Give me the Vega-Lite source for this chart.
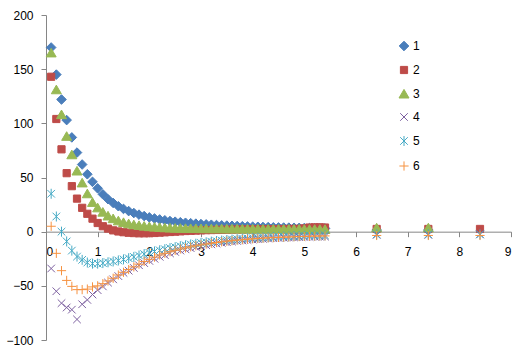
{
  "$schema": "https://vega.github.io/schema/vega-lite/v6.json",
  "autosize": {"type": "none"},
  "padding": {"left": 46, "top": 15, "right": 12, "bottom": 21},
  "width": 465,
  "height": 325,
  "background": "white",
  "config": {"view": {"stroke": null}, "font": "Liberation Sans"},
  "data": {"values": [
    {"s":"1","x":0.1,"y":170},{"s":"1","x":0.2,"y":145},{"s":"1","x":0.3,"y":122},{"s":"1","x":0.4,"y":103},{"s":"1","x":0.5,"y":87},{"s":"1","x":0.6,"y":73},{"s":"1","x":0.7,"y":62},{"s":"1","x":0.8,"y":53},{"s":"1","x":0.9,"y":46},{"s":"1","x":1.0,"y":40},
    {"s":"1","x":1.1,"y":34.5},{"s":"1","x":1.2,"y":30},{"s":"1","x":1.3,"y":26.5},{"s":"1","x":1.4,"y":23.5},{"s":"1","x":1.5,"y":21},{"s":"1","x":1.6,"y":19},{"s":"1","x":1.7,"y":17.2},{"s":"1","x":1.8,"y":15.7},{"s":"1","x":1.9,"y":14.4},{"s":"1","x":2.0,"y":13.2},
    {"s":"1","x":2.1,"y":12.2},{"s":"1","x":2.2,"y":11.3},{"s":"1","x":2.3,"y":10.5},{"s":"1","x":2.4,"y":9.8},{"s":"1","x":2.5,"y":9.2},{"s":"1","x":2.6,"y":8.7},{"s":"1","x":2.7,"y":8.2},{"s":"1","x":2.8,"y":7.8},{"s":"1","x":2.9,"y":7.4},{"s":"1","x":3.0,"y":7.0},
    {"s":"1","x":3.1,"y":6.7},{"s":"1","x":3.2,"y":6.4},{"s":"1","x":3.3,"y":6.1},{"s":"1","x":3.4,"y":5.8},{"s":"1","x":3.5,"y":5.6},{"s":"1","x":3.6,"y":5.4},{"s":"1","x":3.7,"y":5.2},{"s":"1","x":3.8,"y":5.0},{"s":"1","x":3.9,"y":4.8},{"s":"1","x":4.0,"y":4.6},
    {"s":"1","x":4.1,"y":4.5},{"s":"1","x":4.2,"y":4.3},{"s":"1","x":4.3,"y":4.2},{"s":"1","x":4.4,"y":4.0},{"s":"1","x":4.5,"y":3.9},{"s":"1","x":4.6,"y":3.8},{"s":"1","x":4.7,"y":3.7},{"s":"1","x":4.8,"y":3.6},{"s":"1","x":4.9,"y":3.5},{"s":"1","x":5.0,"y":3.4},
    {"s":"1","x":5.1,"y":3.3},{"s":"1","x":5.2,"y":3.2},{"s":"1","x":5.3,"y":3.1},{"s":"1","x":5.4,"y":3.0},{"s":"1","x":6.4,"y":1.5},{"s":"1","x":7.4,"y":1.5},

    {"s":"2","x":0.1,"y":143},{"s":"2","x":0.2,"y":104},{"s":"2","x":0.3,"y":76},{"s":"2","x":0.4,"y":54},{"s":"2","x":0.5,"y":42},{"s":"2","x":0.6,"y":30.5},{"s":"2","x":0.7,"y":22},{"s":"2","x":0.8,"y":16.5},{"s":"2","x":0.9,"y":12},{"s":"2","x":1.0,"y":8},
    {"s":"2","x":1.1,"y":5},{"s":"2","x":1.2,"y":2.8},{"s":"2","x":1.3,"y":1.2},{"s":"2","x":1.4,"y":0.2},{"s":"2","x":1.5,"y":-0.5},{"s":"2","x":1.6,"y":-1},{"s":"2","x":1.7,"y":-1.3},{"s":"2","x":1.8,"y":-1.5},{"s":"2","x":1.9,"y":-1.5},{"s":"2","x":2.0,"y":-1.4},
    {"s":"2","x":2.1,"y":-1.2},{"s":"2","x":2.2,"y":-0.9},{"s":"2","x":2.3,"y":-0.6},{"s":"2","x":2.4,"y":-0.3},{"s":"2","x":2.5,"y":0},{"s":"2","x":2.6,"y":0.3},{"s":"2","x":2.7,"y":0.6},{"s":"2","x":2.8,"y":0.8},{"s":"2","x":2.9,"y":1.0},{"s":"2","x":3.0,"y":1.2},
    {"s":"2","x":3.1,"y":1.4},{"s":"2","x":3.2,"y":1.5},{"s":"2","x":3.3,"y":1.6},{"s":"2","x":3.4,"y":1.7},{"s":"2","x":3.5,"y":1.8},{"s":"2","x":3.6,"y":1.9},{"s":"2","x":3.7,"y":2.0},{"s":"2","x":3.8,"y":2.0},{"s":"2","x":3.9,"y":2.1},{"s":"2","x":4.0,"y":2.1},
    {"s":"2","x":4.1,"y":2.2},{"s":"2","x":4.2,"y":2.2},{"s":"2","x":4.3,"y":2.3},{"s":"2","x":4.4,"y":2.3},{"s":"2","x":4.5,"y":2.4},{"s":"2","x":4.6,"y":2.4},{"s":"2","x":4.7,"y":2.5},{"s":"2","x":4.8,"y":2.5},{"s":"2","x":4.9,"y":2.6},{"s":"2","x":5.0,"y":3.0},
    {"s":"2","x":5.1,"y":3.8},{"s":"2","x":5.2,"y":4.0},{"s":"2","x":5.3,"y":4.0},{"s":"2","x":5.4,"y":3.8},{"s":"2","x":6.4,"y":2.5},{"s":"2","x":7.4,"y":2.5},{"s":"2","x":8.4,"y":2.5},

    {"s":"3","x":0.1,"y":165},{"s":"3","x":0.2,"y":131},{"s":"3","x":0.3,"y":108},{"s":"3","x":0.4,"y":88},{"s":"3","x":0.5,"y":71},{"s":"3","x":0.6,"y":56},{"s":"3","x":0.7,"y":45},{"s":"3","x":0.8,"y":35},{"s":"3","x":0.9,"y":27},{"s":"3","x":1.0,"y":22},
    {"s":"3","x":1.1,"y":18},{"s":"3","x":1.2,"y":14.5},{"s":"3","x":1.3,"y":12},{"s":"3","x":1.4,"y":10},{"s":"3","x":1.5,"y":8.5},{"s":"3","x":1.6,"y":7.3},{"s":"3","x":1.7,"y":6.4},{"s":"3","x":1.8,"y":5.7},{"s":"3","x":1.9,"y":5.1},{"s":"3","x":2.0,"y":4.6},
    {"s":"3","x":2.1,"y":4.2},{"s":"3","x":2.2,"y":3.9},{"s":"3","x":2.3,"y":3.6},{"s":"3","x":2.4,"y":3.4},{"s":"3","x":2.5,"y":3.2},{"s":"3","x":2.6,"y":3.1},{"s":"3","x":2.7,"y":3.0},{"s":"3","x":2.8,"y":2.9},{"s":"3","x":2.9,"y":2.9},{"s":"3","x":3.0,"y":2.8},
    {"s":"3","x":3.1,"y":2.8},{"s":"3","x":3.2,"y":2.7},{"s":"3","x":3.3,"y":2.7},{"s":"3","x":3.4,"y":2.7},{"s":"3","x":3.5,"y":2.6},{"s":"3","x":3.6,"y":2.6},{"s":"3","x":3.7,"y":2.6},{"s":"3","x":3.8,"y":2.5},{"s":"3","x":3.9,"y":2.5},{"s":"3","x":4.0,"y":2.5},
    {"s":"3","x":4.1,"y":2.5},{"s":"3","x":4.2,"y":2.4},{"s":"3","x":4.3,"y":2.4},{"s":"3","x":4.4,"y":2.4},{"s":"3","x":4.5,"y":2.4},{"s":"3","x":4.6,"y":2.3},{"s":"3","x":4.7,"y":2.3},{"s":"3","x":4.8,"y":2.3},{"s":"3","x":4.9,"y":2.3},{"s":"3","x":5.0,"y":2.2},
    {"s":"3","x":5.1,"y":2.2},{"s":"3","x":5.2,"y":2.2},{"s":"3","x":5.3,"y":2.2},{"s":"3","x":5.4,"y":2.1},{"s":"3","x":6.4,"y":3.5},{"s":"3","x":7.4,"y":3.5},

    {"s":"4","x":0.1,"y":-34},{"s":"4","x":0.2,"y":-55},{"s":"4","x":0.3,"y":-66},{"s":"4","x":0.4,"y":-70},{"s":"4","x":0.5,"y":-72},{"s":"4","x":0.6,"y":-81},{"s":"4","x":0.7,"y":-67},{"s":"4","x":0.8,"y":-63},{"s":"4","x":0.9,"y":-58},{"s":"4","x":1.0,"y":-54},
    {"s":"4","x":1.1,"y":-50.5},{"s":"4","x":1.2,"y":-47},{"s":"4","x":1.3,"y":-44},{"s":"4","x":1.4,"y":-41},{"s":"4","x":1.5,"y":-38},{"s":"4","x":1.6,"y":-36},{"s":"4","x":1.7,"y":-33.5},{"s":"4","x":1.8,"y":-31},{"s":"4","x":1.9,"y":-29},{"s":"4","x":2.0,"y":-27},
    {"s":"4","x":2.1,"y":-25},{"s":"4","x":2.2,"y":-23.2},{"s":"4","x":2.3,"y":-21.6},{"s":"4","x":2.4,"y":-20},{"s":"4","x":2.5,"y":-18.7},{"s":"4","x":2.6,"y":-17.4},{"s":"4","x":2.7,"y":-16.3},{"s":"4","x":2.8,"y":-15.2},{"s":"4","x":2.9,"y":-14.2},{"s":"4","x":3.0,"y":-13.3},
    {"s":"4","x":3.1,"y":-12.5},{"s":"4","x":3.2,"y":-11.7},{"s":"4","x":3.3,"y":-11},{"s":"4","x":3.4,"y":-10.3},{"s":"4","x":3.5,"y":-9.7},{"s":"4","x":3.6,"y":-9.1},{"s":"4","x":3.7,"y":-8.6},{"s":"4","x":3.8,"y":-8.1},{"s":"4","x":3.9,"y":-7.7},{"s":"4","x":4.0,"y":-7.3},
    {"s":"4","x":4.1,"y":-6.9},{"s":"4","x":4.2,"y":-6.6},{"s":"4","x":4.3,"y":-6.3},{"s":"4","x":4.4,"y":-6},{"s":"4","x":4.5,"y":-5.8},{"s":"4","x":4.6,"y":-5.6},{"s":"4","x":4.7,"y":-5.4},{"s":"4","x":4.8,"y":-5.2},{"s":"4","x":4.9,"y":-5},{"s":"4","x":5.0,"y":-4.9},
    {"s":"4","x":5.1,"y":-4.8},{"s":"4","x":5.2,"y":-4.7},{"s":"4","x":5.3,"y":-4.6},{"s":"4","x":5.4,"y":-4.5},{"s":"4","x":6.4,"y":-3},{"s":"4","x":7.4,"y":-3},{"s":"4","x":8.4,"y":-2.5},

    {"s":"5","x":0.1,"y":35},{"s":"5","x":0.2,"y":14},{"s":"5","x":0.3,"y":0},{"s":"5","x":0.4,"y":-9},{"s":"5","x":0.5,"y":-17.5},{"s":"5","x":0.6,"y":-23},{"s":"5","x":0.7,"y":-26},{"s":"5","x":0.8,"y":-28.5},{"s":"5","x":0.9,"y":-29.5},{"s":"5","x":1.0,"y":-29.5},
    {"s":"5","x":1.1,"y":-29},{"s":"5","x":1.2,"y":-28.3},{"s":"5","x":1.3,"y":-27.5},{"s":"5","x":1.4,"y":-26.6},{"s":"5","x":1.5,"y":-25.6},{"s":"5","x":1.6,"y":-24.5},{"s":"5","x":1.7,"y":-23.3},{"s":"5","x":1.8,"y":-22},{"s":"5","x":1.9,"y":-20.7},{"s":"5","x":2.0,"y":-19.5},
    {"s":"5","x":2.1,"y":-18.3},{"s":"5","x":2.2,"y":-17.2},{"s":"5","x":2.3,"y":-16.2},{"s":"5","x":2.4,"y":-15.2},{"s":"5","x":2.5,"y":-14.3},{"s":"5","x":2.6,"y":-13.4},{"s":"5","x":2.7,"y":-12.6},{"s":"5","x":2.8,"y":-11.8},{"s":"5","x":2.9,"y":-11.1},{"s":"5","x":3.0,"y":-10.4},
    {"s":"5","x":3.1,"y":-9.8},{"s":"5","x":3.2,"y":-9.2},{"s":"5","x":3.3,"y":-8.7},{"s":"5","x":3.4,"y":-8.2},{"s":"5","x":3.5,"y":-7.7},{"s":"5","x":3.6,"y":-7.3},{"s":"5","x":3.7,"y":-6.9},{"s":"5","x":3.8,"y":-6.5},{"s":"5","x":3.9,"y":-6.2},{"s":"5","x":4.0,"y":-5.9},
    {"s":"5","x":4.1,"y":-5.6},{"s":"5","x":4.2,"y":-5.3},{"s":"5","x":4.3,"y":-5.1},{"s":"5","x":4.4,"y":-4.9},{"s":"5","x":4.5,"y":-4.7},{"s":"5","x":4.6,"y":-4.5},{"s":"5","x":4.7,"y":-4.3},{"s":"5","x":4.8,"y":-4.1},{"s":"5","x":4.9,"y":-4.0},{"s":"5","x":5.0,"y":-3.9},
    {"s":"5","x":5.1,"y":-3.7},{"s":"5","x":5.2,"y":-3.6},{"s":"5","x":5.3,"y":-3.5},{"s":"5","x":5.4,"y":-3.4},{"s":"5","x":6.4,"y":-2.5},{"s":"5","x":7.4,"y":-2.5},{"s":"5","x":8.4,"y":-2.5},

    {"s":"6","x":0.1,"y":5},{"s":"6","x":0.2,"y":-20},{"s":"6","x":0.3,"y":-36},{"s":"6","x":0.4,"y":-45},{"s":"6","x":0.5,"y":-50.5},{"s":"6","x":0.6,"y":-53.5},{"s":"6","x":0.7,"y":-53.5},{"s":"6","x":0.8,"y":-53},{"s":"6","x":0.9,"y":-51},{"s":"6","x":1.0,"y":-50},
    {"s":"6","x":1.1,"y":-48},{"s":"6","x":1.2,"y":-45.5},{"s":"6","x":1.3,"y":-43},{"s":"6","x":1.4,"y":-40},{"s":"6","x":1.5,"y":-37.5},{"s":"6","x":1.6,"y":-35},{"s":"6","x":1.7,"y":-32.5},{"s":"6","x":1.8,"y":-30},{"s":"6","x":1.9,"y":-27.5},{"s":"6","x":2.0,"y":-25.5},
    {"s":"6","x":2.1,"y":-23.5},{"s":"6","x":2.2,"y":-21.5},{"s":"6","x":2.3,"y":-20},{"s":"6","x":2.4,"y":-18.5},{"s":"6","x":2.5,"y":-17.2},{"s":"6","x":2.6,"y":-16},{"s":"6","x":2.7,"y":-15},{"s":"6","x":2.8,"y":-14},{"s":"6","x":2.9,"y":-13},{"s":"6","x":3.0,"y":-12.2},
    {"s":"6","x":3.1,"y":-11.4},{"s":"6","x":3.2,"y":-10.7},{"s":"6","x":3.3,"y":-10},{"s":"6","x":3.4,"y":-9.4},{"s":"6","x":3.5,"y":-8.8},{"s":"6","x":3.6,"y":-8.3},{"s":"6","x":3.7,"y":-7.8},{"s":"6","x":3.8,"y":-7.4},{"s":"6","x":3.9,"y":-7},{"s":"6","x":4.0,"y":-6.6},
    {"s":"6","x":4.1,"y":-6.3},{"s":"6","x":4.2,"y":-6},{"s":"6","x":4.3,"y":-5.7},{"s":"6","x":4.4,"y":-5.5},{"s":"6","x":4.5,"y":-5.3},{"s":"6","x":4.6,"y":-5.1},{"s":"6","x":4.7,"y":-4.9},{"s":"6","x":4.8,"y":-4.7},{"s":"6","x":4.9,"y":-4.5},{"s":"6","x":5.0,"y":-4.4},
    {"s":"6","x":5.1,"y":-4.2},{"s":"6","x":5.2,"y":-4.1},{"s":"6","x":5.3,"y":-4.0},{"s":"6","x":5.4,"y":-3.9},{"s":"6","x":6.4,"y":-3.5},{"s":"6","x":7.4,"y":-3.5},{"s":"6","x":8.4,"y":-3.5}
  ]},
  "mark": {"type": "point", "filled": true, "size": 64, "strokeWidth": 1, "opacity": 1},
  "encoding": {
    "x": {"field": "x", "type": "quantitative",
      "scale": {"domain": [0, 9], "nice": false, "zero": false},
      "axis": {"title": null, "values": [0,1,2,3,4,5,6,7,8,9], "offset": -108.33, "grid": false,
        "domainColor": "#868686", "tickColor": "#868686", "tickSize": 5, "labelPadding": 10,
        "labelFontSize": 12, "labelColor": "#000000", "labelFont": "Liberation Sans"}},
    "y": {"field": "y", "type": "quantitative",
      "scale": {"domain": [-100, 200], "nice": false, "zero": false},
      "axis": {"title": null, "values": [-100,-50,0,50,100,150,200], "grid": false,
        "domainColor": "#868686", "tickColor": "#868686", "tickSize": 5, "labelPadding": 8,
        "labelFontSize": 12, "labelColor": "#000000", "labelFont": "Liberation Sans"}},
    "shape": {"field": "s", "type": "nominal",
      "scale": {"domain": ["1","2","3","4","5","6"],
        "range": ["M-1.2,0L0,-1.2L1.2,0L0,1.2Z", "M-0.9,-0.9L0.9,-0.9L0.9,0.9L-0.9,0.9Z", "M0,-1.15L1.25,1L-1.25,1Z", "M-0.95,-0.95L0.95,0.95M-0.95,0.95L0.95,-0.95", "M-0.95,-0.95L0.95,0.95M-0.95,0.95L0.95,-0.95M0,-1.25L0,1.25", "M-1.15,0L1.15,0M0,-1.15L0,1.15"]},
      "legend": {"title": null, "orient": "none", "legendX": 352, "legendY": 25, "padding": 0,
        "rowPadding": 11, "symbolSize": 64, "symbolStrokeWidth": 1, "labelFontSize": 12, "labelOffset": 3,
        "labelFont": "Liberation Sans", "labelColor": "#000000"}},
    "fill": {"field": "s", "type": "nominal",
      "scale": {"domain": ["1","2","3","4","5","6"], "range": ["#4A7EBB","#BE4B48","#98B954","#7D60A0","#46AAC5","#F69240"]},
      "legend": {"title": null, "orient": "none", "legendX": 352, "legendY": 25, "padding": 0,
        "rowPadding": 11, "symbolSize": 64, "symbolStrokeWidth": 1, "labelFontSize": 12, "labelOffset": 3,
        "labelFont": "Liberation Sans", "labelColor": "#000000"}},
    "stroke": {"field": "s", "type": "nominal",
      "scale": {"domain": ["1","2","3","4","5","6"], "range": ["#4A7EBB","#BE4B48","#98B954","#7D60A0","#46AAC5","#F69240"]},
      "legend": {"title": null, "orient": "none", "legendX": 352, "legendY": 25, "padding": 0,
        "rowPadding": 11, "symbolSize": 64, "symbolStrokeWidth": 1, "labelFontSize": 12, "labelOffset": 3,
        "labelFont": "Liberation Sans", "labelColor": "#000000"}}
  }
}
